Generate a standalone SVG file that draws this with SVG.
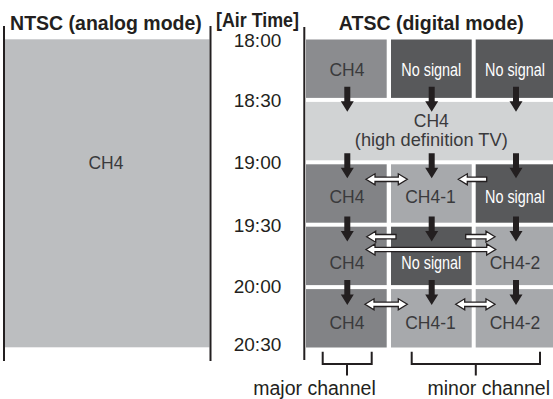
<svg xmlns="http://www.w3.org/2000/svg" width="553" height="399" viewBox="0 0 553 399">
<defs>
<style>
.title{font-family:"Liberation Sans",Arial,sans-serif;font-weight:bold;font-size:19.5px;fill:#231f20}
.time{font-family:"Liberation Sans",Arial,sans-serif;font-size:19px;fill:#231f20;text-anchor:middle}
.cell{font-family:"Liberation Sans",Arial,sans-serif;font-size:17.5px;fill:#3a3a3c;text-anchor:middle}
.cellw{font-family:"Liberation Sans",Arial,sans-serif;font-size:17.5px;fill:#ffffff;text-anchor:middle}
.lbl{font-family:"Liberation Sans",Arial,sans-serif;font-size:19.5px;fill:#231f20;text-anchor:middle}
.rule{stroke:#231f20;stroke-width:2;fill:none}
.major{fill:#828386}
.major1{fill:#8b8c8f}
.minor{fill:#a7a9ac}
.none{fill:#58595b}
.hd{fill:#d1d3d4}
.dn{fill:#231f20}
.wa{fill:#ffffff;stroke:#231f20;stroke-width:1.3;stroke-linejoin:miter}
</style>
<path id="down" d="M-3 -25 H3 V-10.5 H6.5 L0 0 L-6.5 -10.5 H-3 Z"/>
</defs>
<rect width="553" height="399" fill="#ffffff"/>

<g id="ntsc">
<rect x="5" y="39.3" width="204.5" height="308" fill="#bcbec0"/>
<line class="rule" x1="4" y1="26" x2="4" y2="361"/>
<line class="rule" x1="210.5" y1="26" x2="210.5" y2="361"/>
<text class="title" x="106" y="30" text-anchor="middle">NTSC (analog mode)</text>
<text class="cell" x="106" y="169">CH4</text>
</g>

<g id="airtime">
<text class="title" x="257.5" y="27" text-anchor="middle" textLength="83" lengthAdjust="spacingAndGlyphs">[Air Time]</text>
<text class="time" x="257.5" y="46.7">18:00</text>
<text class="time" x="257.5" y="106.7">18:30</text>
<text class="time" x="257.5" y="169">19:00</text>
<text class="time" x="257.5" y="231.7">19:30</text>
<text class="time" x="257.5" y="293.3">20:00</text>
<text class="time" x="257.5" y="351">20:30</text>
</g>

<g id="atsc">
<line class="rule" x1="304.3" y1="27" x2="304.3" y2="360"/>
<text class="title" x="431.3" y="30" text-anchor="middle">ATSC (digital mode)</text>
</g>

<g id="r1c1"><rect class="major1" x="306" y="39.5" width="80.7" height="58.4"/><text class="cell" x="347" y="76">CH4</text></g>
<g id="r1c2"><rect class="none" x="391" y="39.5" width="80.7" height="58.4"/><text class="cellw" x="431.3" y="76" textLength="60" lengthAdjust="spacingAndGlyphs">No signal</text></g>
<g id="r1c3"><rect class="none" x="475.7" y="39.5" width="77.3" height="58.4"/><text class="cellw" x="515" y="76" textLength="60" lengthAdjust="spacingAndGlyphs">No signal</text></g>

<g id="r2"><rect class="hd" x="306" y="101.9" width="247" height="58.4"/><text class="cell" x="431.3" y="126.7">CH4</text><text class="cell" x="431.3" y="146" textLength="153" lengthAdjust="spacingAndGlyphs">(high definition TV)</text></g>

<g id="r3c1"><rect class="major" x="306" y="164.3" width="80.7" height="58.4"/><text class="cell" x="347" y="203.3">CH4</text></g>
<g id="r3c2"><rect class="minor" x="391" y="164.3" width="80.7" height="58.4"/><text class="cell" x="430.5" y="203.3">CH4-1</text></g>
<g id="r3c3"><rect class="none" x="475.7" y="164.3" width="77.3" height="58.4"/><text class="cellw" x="515" y="203.3" textLength="60" lengthAdjust="spacingAndGlyphs">No signal</text></g>

<g id="r4c1"><rect class="major" x="306" y="226.7" width="80.7" height="58.4"/><text class="cell" x="347" y="269.3">CH4</text></g>
<g id="r4c2"><rect class="none" x="391" y="226.7" width="80.7" height="58.4"/><text class="cellw" x="431.3" y="269.3" textLength="60" lengthAdjust="spacingAndGlyphs">No signal</text></g>
<g id="r4c3"><rect class="minor" x="475.7" y="226.7" width="77.3" height="58.4"/><text class="cell" x="515" y="269.3">CH4-2</text></g>

<g id="r5c1"><rect class="major" x="306" y="289.1" width="80.7" height="58.4"/><text class="cell" x="347" y="329.3">CH4</text></g>
<g id="r5c2"><rect class="minor" x="391" y="289.1" width="80.7" height="58.4"/><text class="cell" x="430.5" y="329.3">CH4-1</text></g>
<g id="r5c3"><rect class="minor" x="475.7" y="289.1" width="77.3" height="58.4"/><text class="cell" x="515" y="329.3">CH4-2</text></g>

<g id="connectors">
<use href="#down" class="dn" x="347.3" y="111.7"/>
<use href="#down" class="dn" x="431.7" y="111.7"/>
<use href="#down" class="dn" x="516" y="111.7"/>
<use href="#down" class="dn" x="347.3" y="178.3"/>
<use href="#down" class="dn" x="431.7" y="178.3"/>
<use href="#down" class="dn" x="516" y="178.3"/>
<use href="#down" class="dn" x="347.3" y="241.5"/>
<use href="#down" class="dn" x="431.7" y="241.5"/>
<use href="#down" class="dn" x="516" y="241.5"/>
<use href="#down" class="dn" x="347.3" y="305"/>
<use href="#down" class="dn" x="431.7" y="305"/>
<use href="#down" class="dn" x="516" y="305"/>
<path class="wa" d="M366 179.3 L375 173.8 V177.1 H398.3 V173.8 L407.3 179.3 L398.3 184.8 V181.5 H375 V184.8 Z"/>
<path class="wa" d="M458.3 179.3 L467.3 173.8 V177.1 H486.7 V181.5 H467.3 V184.8 Z"/>
<path class="wa" d="M366.7 236.7 L375.7 231.2 V234.5 H396 V238.9 H375.7 V242.2 Z"/>
<path class="wa" d="M495 236.7 L486 231.2 V234.5 H465.7 V238.9 H486 V242.2 Z"/>
<path class="wa" d="M366 249.5 L375 244 V247.3 H486.7 V244 L495.7 249.5 L486.7 255 V251.7 H375 V255 Z"/>
<path class="wa" d="M365 304.3 L374 298.8 V302.1 H398.3 V298.8 L407.3 304.3 L398.3 309.8 V306.5 H374 V309.8 Z"/>
<path class="wa" d="M455.7 304.3 L464.7 298.8 V302.1 H486 V298.8 L495 304.3 L486 309.8 V306.5 H464.7 V309.8 Z"/>
</g>

<g id="major-channel">
<path class="rule" d="M322.7 351.7 V364 H371.7 V351.7 M347 364 V375.5"/>
<text class="lbl" x="314.5" y="395">major channel</text>
</g>
<g id="minor-channel">
<path class="rule" d="M411.7 351.7 V364 H540 V351.7 M475.8 364 V375.5"/>
<text class="lbl" x="488.8" y="395">minor channel</text>
</g>
</svg>
